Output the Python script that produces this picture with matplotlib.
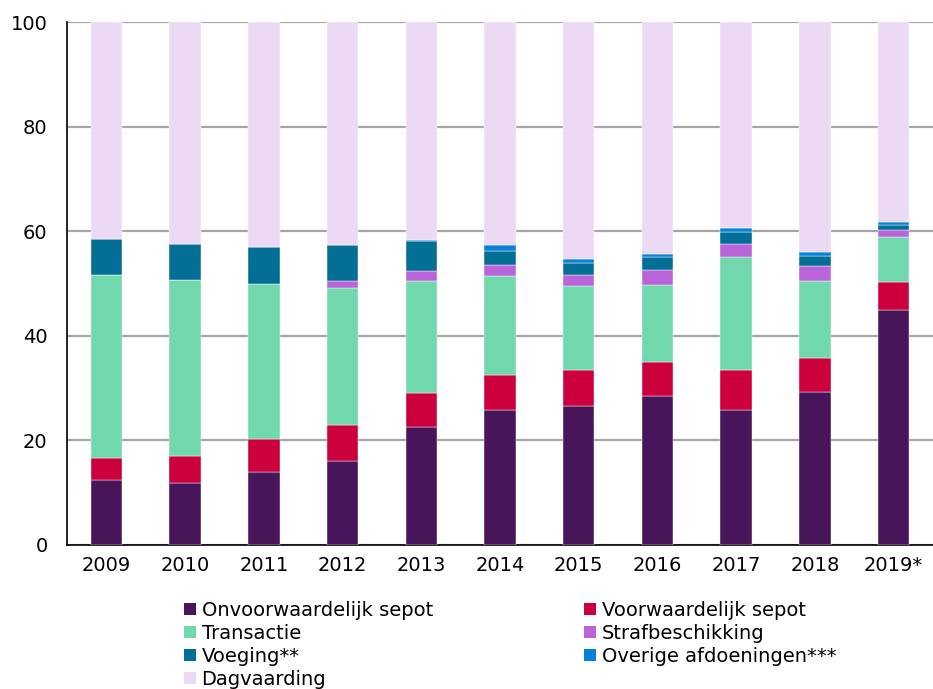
import numpy as np
import matplotlib

matplotlib.use('Agg')
import matplotlib.pyplot as plt
from matplotlib.patches import Patch

# Afdoeningen per jaar (%)
years = ['2009', '2010', '2011', '2012', '2013', '2014', '2015', '2016', '2017', '2018', '2019*']
onvoorwaardelijk = [12.4, 11.9, 13.9, 16.0, 22.6, 25.9, 26.6, 28.4, 25.9, 29.2, 44.9]
voorwaardelijk = [4.3, 5.1, 6.4, 6.9, 6.5, 6.7, 6.9, 6.5, 7.5, 6.6, 5.4]
transactie = [35.0, 33.7, 29.7, 26.2, 21.4, 18.9, 16.1, 14.9, 21.7, 14.7, 8.6]
strafbeschikking = [0.0, 0.0, 0.0, 1.3, 1.9, 2.0, 2.0, 2.7, 2.5, 2.8, 1.4]
voeging = [6.9, 6.9, 6.9, 7.0, 5.7, 2.8, 2.3, 2.5, 2.3, 2.0, 0.9]
overige = [0.0, 0.0, 0.0, 0.0, 0.3, 1.0, 0.8, 0.7, 0.7, 0.7, 0.5]

series = [
    ('Onvoorwaardelijk sepot', onvoorwaardelijk, '#48145a'),
    ('Voorwaardelijk sepot', voorwaardelijk, '#cc003d'),
    ('Transactie', transactie, '#71d8ad'),
    ('Strafbeschikking', strafbeschikking, '#b964d8'),
    ('Voeging**', voeging, '#046f96'),
    ('Overige afdoeningen***', overige, '#0581d8'),
]
dagvaarding = 100 - np.sum([s[1] for s in series], axis=0)
series.append(('Dagvaarding', dagvaarding, '#ecdaf5'))

fig = plt.figure(figsize=(9.33, 6.89), dpi=100)
ax = fig.add_axes([67 / 933, 1 - 545 / 689, 1 - 67 / 933, (545 - 22) / 689])

x = np.arange(len(years))
bottom = np.zeros(len(years))
handles = {}
for name, vals, col in series:
    vals = np.array(vals, dtype=float)
    ax.bar(x, vals, width=0.4, bottom=bottom, color=col, edgecolor='white',
           linewidth=0.3, zorder=3)
    bottom += vals
    handles[name] = Patch(facecolor=col, edgecolor='none')

ax.set_xlim(-0.5, len(years) - 0.5)
ax.set_ylim(0, 100)
ax.set_yticks([0, 20, 40, 60, 80, 100])
ax.set_xticks(x)
ax.set_xticklabels(years)
ax.tick_params(axis='y', length=0, pad=14, labelsize=14)
ax.tick_params(axis='x', length=0, pad=8, labelsize=14)
ax.yaxis.grid(True, color='#a6a6a6', linewidth=1.6, zorder=0)
ax.set_axisbelow(True)
for s in ['top', 'right']:
    ax.spines[s].set_visible(False)
ax.spines['left'].set_linewidth(1.2)
ax.spines['bottom'].set_linewidth(1.2)

# legenda rij voor rij, twee kolommen
order = ['Onvoorwaardelijk sepot', 'Transactie', 'Voeging**', 'Dagvaarding',
         'Voorwaardelijk sepot', 'Strafbeschikking', 'Overige afdoeningen***']
fig.legend([handles[n] for n in order], order, ncol=2, frameon=False,
           loc='upper left', bbox_to_anchor=(184 / 933, 1 - 601 / 689),
           fontsize=14, handlelength=0.6, handleheight=0.6, handletextpad=0.3,
           labelspacing=0.2, columnspacing=7.8, borderpad=0, borderaxespad=0)

plt.savefig('out.png', dpi=100)
plt.close(fig)
